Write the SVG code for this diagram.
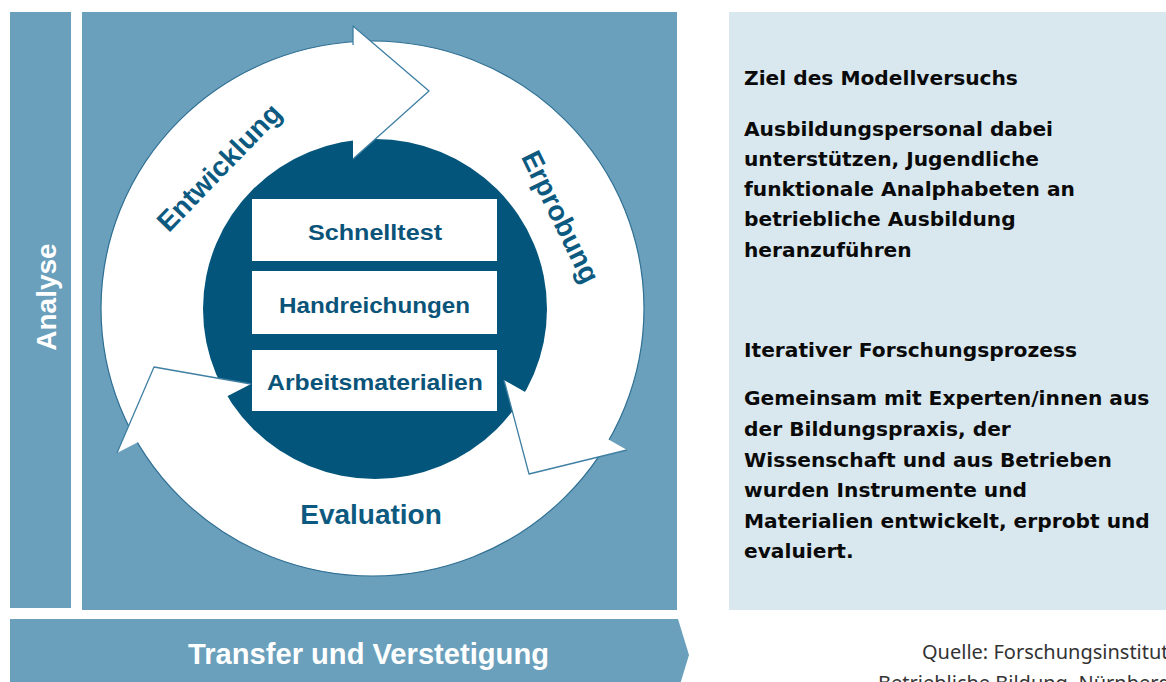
<svg xmlns="http://www.w3.org/2000/svg" width="1166" height="682" viewBox="0 0 1166 682">
  <style>
    .mid { fill: #6aa0bc; }
    .light { fill: #d9e7ef; }
    .dark { fill: #03557b; }
    .box { fill: #ffffff; }
    .boxtxt { font-family: "Liberation Sans", Arial, sans-serif; font-weight: bold; font-size: 22px; fill: #0b5479; }
    .ringtxt { font-family: "Liberation Sans", Arial, sans-serif; font-weight: bold; font-size: 28px; fill: #0d5a80; text-anchor: middle; }
    .white { font-family: "Liberation Sans", Arial, sans-serif; font-weight: bold; fill: #ffffff; }
    .panel { font-family: "DejaVu Sans", sans-serif; font-weight: bold; font-size: 20.2px; fill: #0a0a0a; }
    .src { font-family: "Noto Sans", "Open Sans", sans-serif; font-size: 20px; fill: #333333; }
    .edge { fill: none; stroke: #3f7fa3; stroke-width: 1.3; stroke-linejoin: round; }
  </style>

  <rect width="1166" height="682" fill="#ffffff"/>

  <!-- Analyse strip -->
  <g id="analyse">
    <rect class="mid" x="10" y="12" width="61" height="596"/>
    <text class="white" font-size="28" text-anchor="middle" transform="translate(56,297) rotate(-90)">Analyse</text>
  </g>

  <!-- main square -->
  <g id="main-panel">
    <rect class="mid" x="82" y="12" width="595" height="598"/>
  </g>

  <!-- cycle: ring and arrowheads (connectors) -->
  <g id="connectors">
    <ellipse cx="372.5" cy="308.5" rx="271.5" ry="267.5" fill="#ffffff" stroke="#2f6f93" stroke-width="1.2"/>
    <ellipse class="dark" cx="375" cy="309" rx="172" ry="170"/>
    <!-- top arrowhead (Entwicklung -> Erprobung) -->
    <polygon points="353,26 429,91 353,159" fill="#ffffff"/>
    <polyline class="edge" points="353,45 353,26 429,91 353,159"/>
    <!-- bottom-right arrowhead (Erprobung -> Evaluation) -->
    <polygon points="504,380 627,450 529,474" fill="#ffffff"/>
    <polyline class="edge" points="504,380 529,474 627,450"/>
    <!-- bottom-left arrowhead (Evaluation -> Entwicklung) -->
    <polygon points="117,453 154,367 251,384" fill="#ffffff"/>
    <polyline class="edge" points="117,453 154,367 251,384"/>
  </g>

  <g id="label-entwicklung">
    <text class="ringtxt" font-size="29" transform="translate(226,174) rotate(-46)">Entwicklung</text>
  </g>
  <g id="label-erprobung">
    <text class="ringtxt" transform="translate(552,221) rotate(64)">Erprobung</text>
  </g>
  <g id="label-evaluation">
    <text class="ringtxt" x="371" y="524">Evaluation</text>
  </g>

  <g id="box-schnelltest">
    <rect class="box" x="252" y="199" width="245" height="62"/>
    <text class="boxtxt" x="308" y="240" textLength="134" lengthAdjust="spacingAndGlyphs">Schnelltest</text>
  </g>
  <g id="box-handreichungen">
    <rect class="box" x="252" y="271" width="245" height="63"/>
    <text class="boxtxt" x="279" y="313" textLength="191" lengthAdjust="spacingAndGlyphs">Handreichungen</text>
  </g>
  <g id="box-arbeitsmaterialien">
    <rect class="box" x="252" y="350" width="245" height="61"/>
    <text class="boxtxt" x="267" y="390" textLength="216" lengthAdjust="spacingAndGlyphs">Arbeitsmaterialien</text>
  </g>

  <!-- right info panel -->
  <g id="info-panel">
    <rect class="light" x="729" y="12" width="437" height="598"/>
    <text class="panel" x="744" y="85">Ziel des Modellversuchs</text>
    <text class="panel" x="744" y="136">Ausbildungspersonal dabei</text>
    <text class="panel" x="744" y="166">unterstützen, Jugendliche</text>
    <text class="panel" x="744" y="196">funktionale Analphabeten an</text>
    <text class="panel" x="744" y="226">betriebliche Ausbildung</text>
    <text class="panel" x="744" y="257">heranzuführen</text>
    <text class="panel" x="744" y="357">Iterativer Forschungsprozess</text>
    <text class="panel" x="744" y="405">Gemeinsam mit Experten/innen aus</text>
    <text class="panel" x="744" y="436">der Bildungspraxis, der</text>
    <text class="panel" x="744" y="467">Wissenschaft und aus Betrieben</text>
    <text class="panel" x="744" y="497">wurden Instrumente und</text>
    <text class="panel" x="744" y="528">Materialien entwickelt, erprobt und</text>
    <text class="panel" x="744" y="558">evaluiert.</text>
  </g>

  <!-- transfer arrow -->
  <g id="transfer">
    <polygon class="mid" points="10,619 678,619 689,655 678,691 10,691"/>
    <text class="white" font-size="30" x="188" y="664" textLength="361" lengthAdjust="spacingAndGlyphs">Transfer und Verstetigung</text>
  </g>

  <!-- source -->
  <g id="source">
    <text class="src" x="922" y="659">Quelle: Forschungsinstitut</text>
    <text class="src" x="878" y="690">Betriebliche Bildung, Nürnberg</text>
  </g>
</svg>
